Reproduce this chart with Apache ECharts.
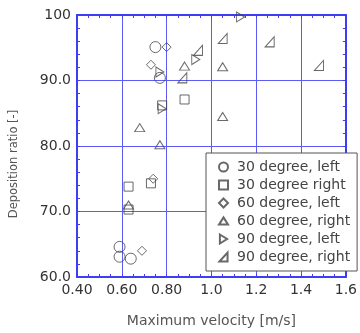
<!DOCTYPE html>
<html>
<head>
<meta charset="utf-8">
<script src="https://cdn.jsdelivr.net/npm/echarts@6/dist/echarts.min.js"></script>
<style>
  html, body { margin: 0; padding: 0; background: #fff; }
  #chart { width: 360px; height: 333px; }
</style>
</head>
<body>
<div id="chart"></div>
<script>
// [velocity m/s, deposition ratio]
const circle30Left = [[0.75, 95.1], [0.77, 90.4], [0.59, 64.6], [0.59, 63.1], [0.64, 62.8]]
const square30Right = [[0.88, 87.1], [0.78, 86.2], [0.63, 73.8], [0.73, 74.3], [0.63, 70.3]]
const diamond60Left = [[0.80, 95.1], [0.73, 92.4], [0.74, 75.0], [0.69, 64.0]]
const triangle60Right = [[0.88, 92.2], [1.05, 92.1], [1.05, 84.5], [0.68, 82.8], [0.77, 80.2], [0.63, 71.0]]
const tri90Left = [[0.77, 91.3], [0.78, 85.7], [0.93, 93.2], [1.13, 99.7]]
const tri90Right = [[0.87, 90.4], [0.94, 94.6], [1.05, 96.4], [1.26, 95.9], [1.48, 92.3]]

const seriesNames = ['30 degree, left', '30 degree right', '60 degree, left', '60 degree, right', '90 degree, left', '90 degree, right']

const FONT = 'DejaVu Sans'
const AXIS_BLUE = '#3d3df2'
const GRID_BLUE = '#5c5cf5'
const MARK = '#444'

const markStyle = { color: 'rgba(255,255,255,0)', borderColor: MARK, borderWidth: 1 }

const mkSeries = (name, data, symbol, size) => ({
  name,
  type: 'scatter',
  data,
  symbol,
  symbolSize: size,
  itemStyle: markStyle,
  emphasis: { disabled: true }
})

const sideAxis = (extra) => Object.assign({
  axisLine: { show: true, lineStyle: { color: AXIS_BLUE, width: 2 } },
  axisTick: { show: true, inside: true, length: 3, lineStyle: { color: AXIS_BLUE } },
  axisLabel: { show: false },
  splitLine: { show: false }
}, extra)

const chart = echarts.init(document.getElementById('chart'))
chart.setOption({
  animation: false,
  textStyle: { fontFamily: FONT },
  grid: { left: 76, right: 12, top: 15, bottom: 49 },
  legend: {
    data: seriesNames,
    orient: 'vertical',
    left: 206,
    top: 153,
    padding: [7, 7, 7, 12],
    itemGap: 4,
    itemWidth: 9,
    itemHeight: 9,
    backgroundColor: '#fff',
    borderColor: '#555',
    borderWidth: 1,
    textStyle: { fontFamily: FONT, fontSize: 14, color: '#444', padding: [0, 0, 0, 4] }
  },
  xAxis: [
    {
      type: 'value',
      min: 0.4,
      max: 1.6,
      interval: 0.2,
      name: 'Maximum velocity [m/s]',
      nameLocation: 'middle',
      nameGap: 37,
      nameTextStyle: { fontFamily: FONT, fontSize: 14, color: '#555' },
      axisLine: { show: true, lineStyle: { color: AXIS_BLUE, width: 2 } },
      axisTick: { show: true, inside: true, length: 3, lineStyle: { color: AXIS_BLUE } },
      minorTick: { show: true, splitNumber: 4, length: 3, lineStyle: { color: AXIS_BLUE } },
      splitLine: { show: true, lineStyle: { color: GRID_BLUE, width: 1 } },
      axisLabel: {
        fontFamily: FONT, fontSize: 14, color: '#333', margin: 6,
        formatter: v => (v < 0.99 ? v.toFixed(2) : v.toFixed(1))
      }
    },
    sideAxis({ type: 'value', position: 'top', min: 0.4, max: 1.6, interval: 0.2, minorTick: { show: true, splitNumber: 4, length: 3, lineStyle: { color: AXIS_BLUE } } })
  ],
  yAxis: [
    {
      type: 'value',
      min: 60,
      max: 100,
      interval: 10,
      name: 'Deposition ratio [-]',
      nameLocation: 'middle',
      nameGap: 57,
      nameTextStyle: { fontFamily: FONT, fontSize: 11.5, color: '#555', padding: [0, 36, 0, 0] },
      axisLine: { show: true, lineStyle: { color: AXIS_BLUE, width: 2 } },
      axisTick: { show: true, inside: true, length: 3, lineStyle: { color: AXIS_BLUE } },
      minorTick: { show: true, splitNumber: 5, length: 3, lineStyle: { color: AXIS_BLUE } },
      splitLine: { show: true, lineStyle: { color: GRID_BLUE, width: 1 } },
      axisLabel: {
        fontFamily: FONT, fontSize: 14, color: '#333', margin: 6,
        formatter: v => (v === 100 ? '100' : v.toFixed(1))
      }
    },
    sideAxis({ type: 'value', position: 'right', min: 60, max: 100, interval: 10, minorTick: { show: true, splitNumber: 5, length: 3, lineStyle: { color: AXIS_BLUE } } })
  ],
  series: [
    mkSeries(seriesNames[0], circle30Left, 'circle', 11),
    mkSeries(seriesNames[1], square30Right, 'rect', 9),
    mkSeries(seriesNames[2], diamond60Left, 'path://M5,0 L10,5 L5,10 L0,5 Z', 9),
    mkSeries(seriesNames[3], triangle60Right, 'path://M5,0 L10,8 L0,8 Z', [10, 8]),
    mkSeries(seriesNames[4], tri90Left, 'path://M0,0 L8,5 L0,10 Z', [8, 10]),
    mkSeries(seriesNames[5], tri90Right, 'path://M0,10 L9,0 L9,10 Z', [9, 10])
  ]
})
</script>
</body>
</html>
